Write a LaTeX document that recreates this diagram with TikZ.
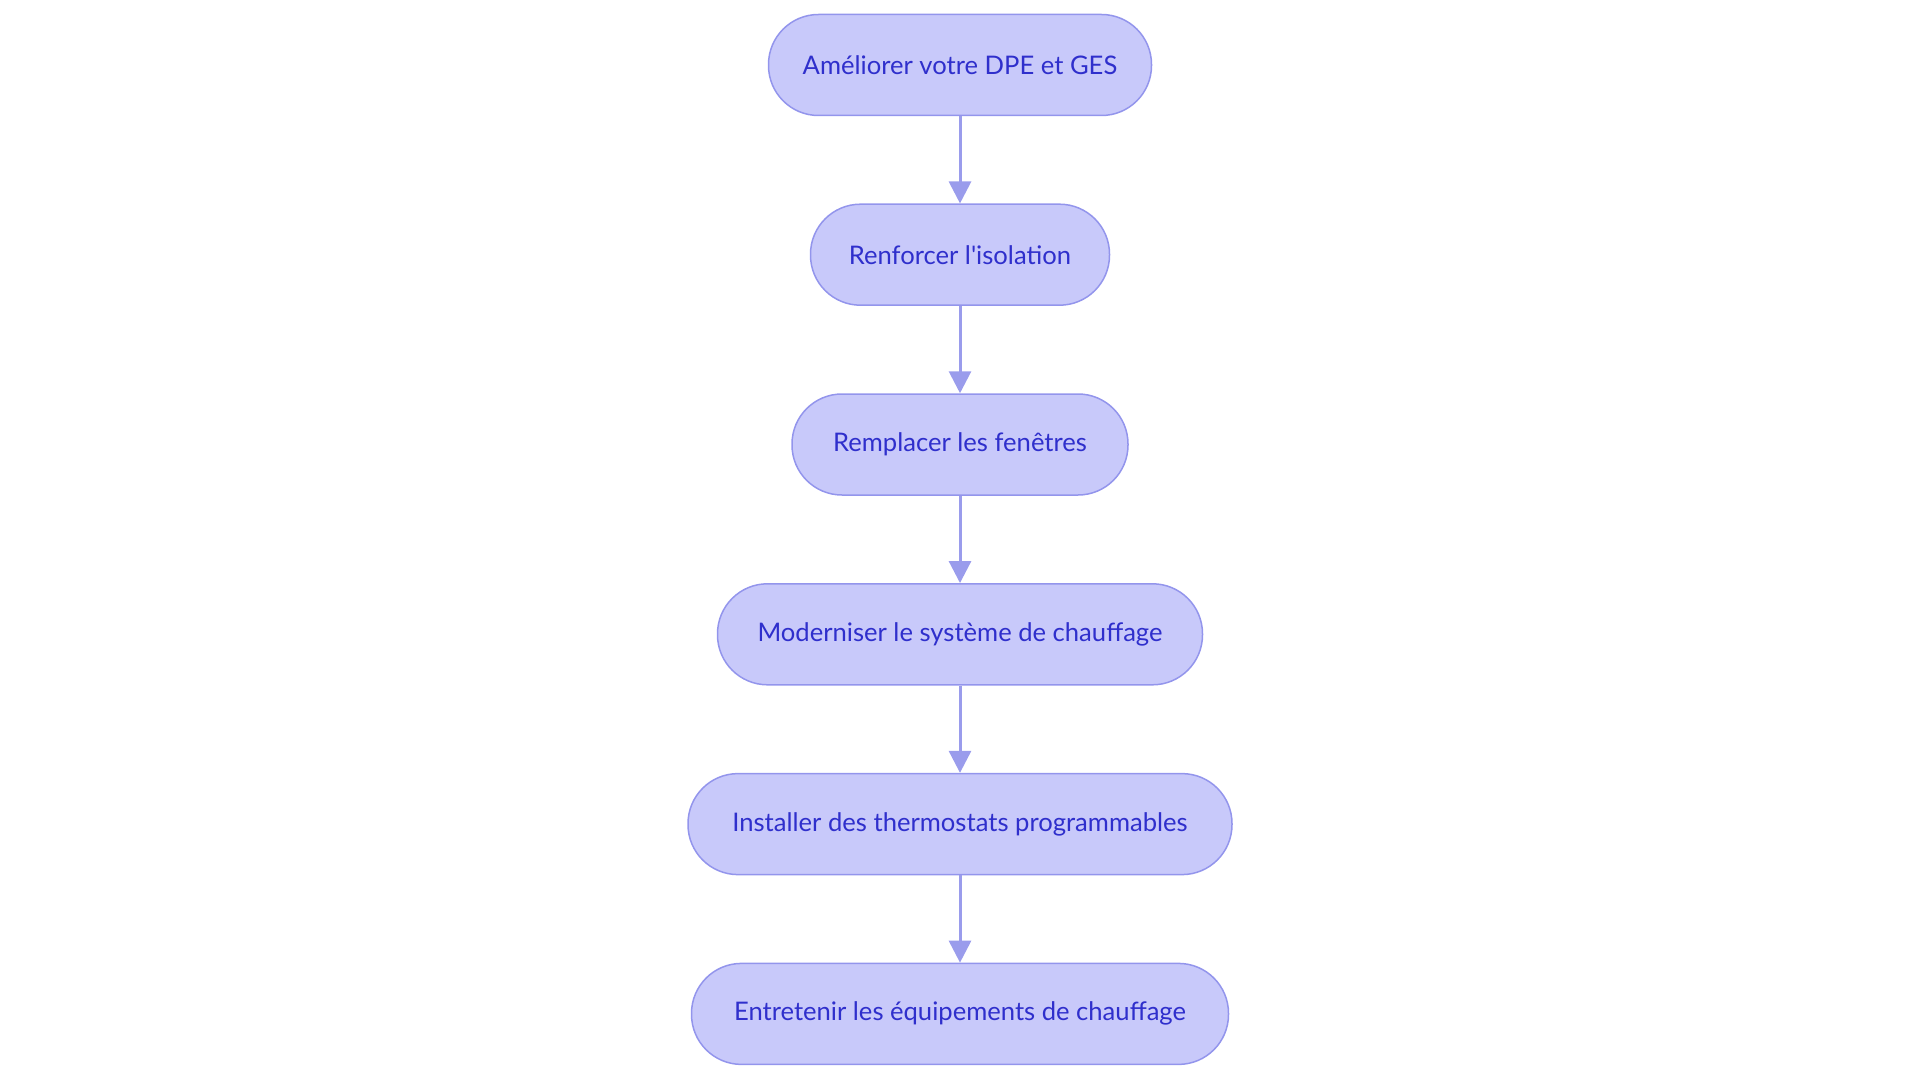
\documentclass[tikz,border=0pt]{standalone}
\usepackage{fontspec}
\setmainfont{Lato}[Ligatures=TeXOff]
\usetikzlibrary{arrows.meta}
\definecolor{boxfill}{HTML}{C8C9FA}
\definecolor{boxline}{HTML}{9395EC}
\definecolor{boxtext}{HTML}{2F2FCC}
\definecolor{arrowc}{HTML}{9A9CEC}
\tikzset{
  stepbox/.style={draw=boxline, line width=1.5pt, fill=boxfill, rounded corners=50pt,
    minimum height=101pt, inner sep=0pt, text=boxtext, font=\fontsize{25.6}{30}\selectfont},
  flow/.style={draw=arrowc, line width=3pt, -{Triangle[length=22pt,width=22pt]}}
}
\begin{document}
\begin{tikzpicture}[x=1pt,y=1pt]
\useasboundingbox (0,0) rectangle (1920,-1083);
\node[stepbox, minimum width=383pt] (n1) at (960,-65) {Améliorer votre DPE et GES};
\node[stepbox, minimum width=299pt] (n2) at (960,-254.7) {Renforcer l'isolation};
\node[stepbox, minimum width=336pt] (n3) at (960,-444.5) {Remplacer les fenêtres};
\node[stepbox, minimum width=485pt] (n4) at (960,-634.3) {Moderniser le système de chauffage};
\node[stepbox, minimum width=544pt] (n5) at (960,-824.1) {Installer des thermostats programmables};
\node[stepbox, minimum width=537pt] (n6) at (960,-1013.9) {Entretenir les équipements de chauffage};
\draw[flow] (n1) -- (n2);
\draw[flow] (n2) -- (n3);
\draw[flow] (n3) -- (n4);
\draw[flow] (n4) -- (n5);
\draw[flow] (n5) -- (n6);
\end{tikzpicture}
\end{document}
